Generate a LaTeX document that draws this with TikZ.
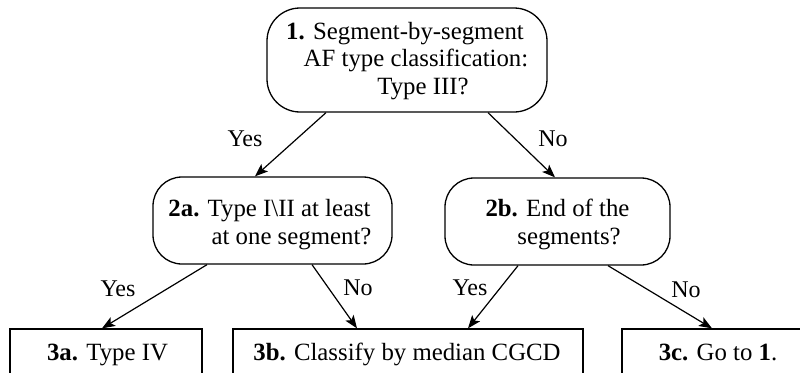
\documentclass[tikz,border=0pt]{standalone}
\usepackage{fontspec}
\setmainfont{LiberationSerif}[Extension=.ttf,UprightFont=*-Regular,BoldFont=*-Bold,ItalicFont=*-Italic,BoldItalicFont=*-BoldItalic]
\usetikzlibrary{arrows.meta,calc}
\begin{document}
\begin{tikzpicture}[x=1pt,y=-1pt,
  every node/.style={font=\rmfamily\fontsize{24.8}{27.5}\selectfont},
  rbox/.style={draw,line width=1.3pt,rounded corners=#1,inner sep=0pt},
  sbox/.style={draw,line width=1.3pt,inner sep=0pt,minimum height=50pt,text height=17pt,text depth=5pt},
  btext/.style={align=center,inner sep=0pt},
  lab/.style={inner sep=0pt,font=\rmfamily\fontsize{24}{27}\selectfont},
  arr/.style={line width=1.2pt,-{Stealth[length=13pt,width=10pt,inset=3pt]}}]
\useasboundingbox (0,0) rectangle (800,372);
\clip (0,0) rectangle (800,372);
% decision boxes
\node[rbox=33pt,minimum width=280pt,minimum height=104pt] (b1) at (407,60) {};
\node[btext] (t1) at (407,60.7) {\textbf{1.} Segment-by-segment\hspace*{4pt}\\
  \hspace*{18pt}AF type classification:\\
  \hspace*{32pt}Type III?};
\node[rbox=29pt,minimum width=239pt,minimum height=87pt] (b2a) at (272.5,220.5) {};
\node[btext] (t2a) at (272.5,224.5) {\textbf{2a.} Type I\textbackslash II at least\hspace*{6pt}\\
  \hspace*{38pt}at one segment?};
\node[rbox=29pt,minimum width=225pt,minimum height=87pt] (b2b) at (557.5,221.5) {};
\node[btext] (t2b) at (557.5,224.5) {\textbf{2b.} End of the\\
  \hspace*{23pt}segments?};
% result boxes
\node[sbox,minimum width=192pt] (b3a) at (106,354) {\hspace*{3pt}\textbf{3a.} Type IV};
\node[sbox,minimum width=350pt] (b3b) at (408,354) {\textbf{3b.} Classify by median CGCD\hspace*{2pt}};
\node[sbox,minimum width=208pt] (b3c) at (726,354) {\textbf{3c.} Go to \textbf{1}.\hspace*{16pt}};
% connectors
\draw[arr] ($(b1.south)+(-81,0)$) -- ($(b2a.north)+(-17.5,0)$);
\draw[arr] ($(b1.south)+(81,0)$) -- ($(b2b.north)+(-2.5,0)$);
\draw[arr] ($(b2a.south)+(-65.5,0)$) -- ($(b3a.north)+(-4,0)$);
\draw[arr] ($(b2a.south)+(39.5,0)$) -- ($(b3b.north)+(-51,0)$);
\draw[arr] ($(b2b.south)+(-39.5,0)$) -- ($(b3b.north)+(60,0)$);
\draw[arr] ($(b2b.south)+(50.5,0)$) -- ($(b3c.north)+(-14,0)$);
% labels
\node[lab] (l1) at (245,139) {Yes};
\node[lab] (l2) at (553,139) {No};
\node[lab] (l3) at (118,289) {Yes};
\node[lab] (l4) at (358,288) {No};
\node[lab] (l5) at (470,288) {Yes};
\node[lab] (l6) at (686,290) {No};
\end{tikzpicture}
\end{document}
